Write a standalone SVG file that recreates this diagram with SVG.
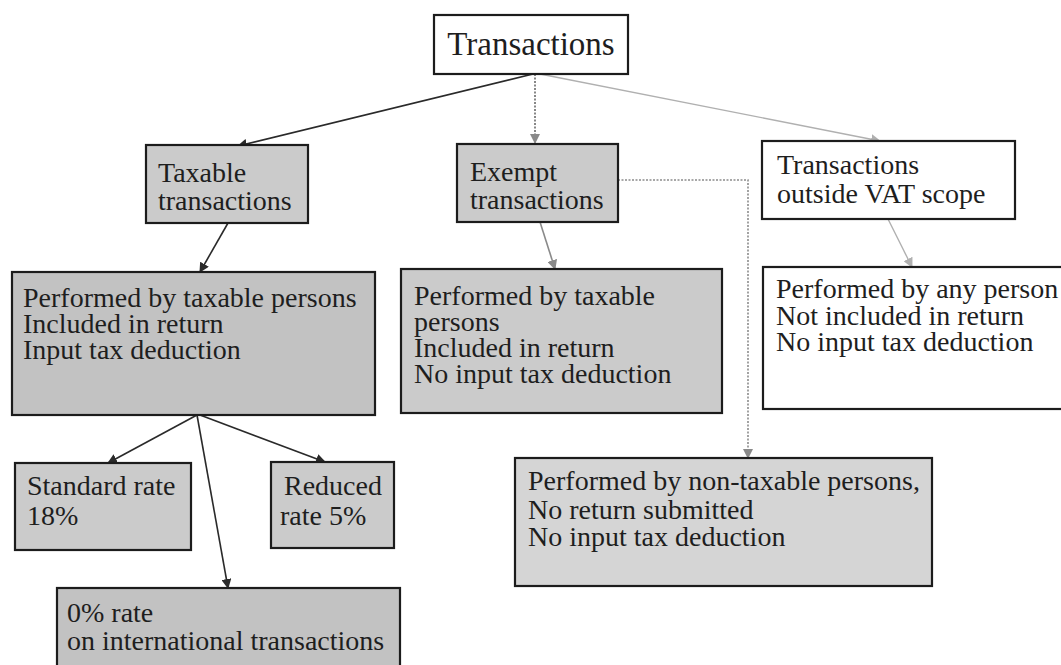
<svg xmlns="http://www.w3.org/2000/svg" width="1061" height="665" viewBox="0 0 1061 665">
  <style>
    .box { stroke: #1c1c1c; stroke-width: 2.2; }
    .white { fill: #ffffff; }
    .g1 { fill: #c2c2c2; }
    .g2 { fill: #cbcbcb; }
    .g3 { fill: #d5d5d5; }
    text { font-family: "Liberation Serif", "Times New Roman", serif; font-size: 28px; fill: #1e1e1e; }
    .title { font-size: 33px; }
    .dark { stroke: #2a2a2a; stroke-width: 1.6; fill: none; }
    .mid { stroke: #8a8a8a; stroke-width: 1.6; fill: none; }
    .light { stroke: #b0b0b0; stroke-width: 1.4; fill: none; }
    .dotted { stroke: #6a6a6a; stroke-width: 1.6; stroke-dasharray: 2 1.5; fill: none; }
    .dotlight { stroke: #8c8c8c; stroke-width: 1.6; stroke-dasharray: 2 1.5; fill: none; }
  </style>
  <defs>
    <marker id="ahDark" viewBox="0 0 10 10" refX="9" refY="5" markerWidth="10" markerHeight="10" markerUnits="userSpaceOnUse" orient="auto">
      <path d="M0,0 L10,5 L0,10 z" fill="#2a2a2a"/>
    </marker>
    <marker id="ahMid" viewBox="0 0 10 10" refX="9" refY="5" markerWidth="10" markerHeight="10" markerUnits="userSpaceOnUse" orient="auto">
      <path d="M0,0 L10,5 L0,10 z" fill="#8a8a8a"/>
    </marker>
    <marker id="ahLight" viewBox="0 0 10 10" refX="9" refY="5" markerWidth="10" markerHeight="10" markerUnits="userSpaceOnUse" orient="auto">
      <path d="M0,0 L10,5 L0,10 z" fill="#b0b0b0"/>
    </marker>
  </defs>

  <rect width="1061" height="665" fill="#ffffff"/>

  <!-- connectors -->
  <g id="connectors">
    <line class="dark" x1="533" y1="74" x2="238" y2="146" marker-end="url(#ahDark)"/>
    <line class="dotted" x1="535" y1="74" x2="535" y2="143" marker-end="url(#ahMid)"/>
    <line class="light" x1="540" y1="74" x2="880" y2="141" marker-end="url(#ahLight)"/>
    <line class="dark" x1="228" y1="223" x2="200" y2="272" marker-end="url(#ahDark)"/>
    <line class="mid" x1="540" y1="222" x2="555" y2="269" marker-end="url(#ahMid)"/>
    <line class="light" x1="888" y1="219" x2="912" y2="267" marker-end="url(#ahLight)"/>
    <polyline class="dotlight" points="618,180 748,180 748,458" marker-end="url(#ahMid)"/>
    <line class="dark" x1="197" y1="415" x2="108" y2="463" marker-end="url(#ahDark)"/>
    <line class="dark" x1="200" y1="415" x2="325" y2="462" marker-end="url(#ahDark)"/>
    <line class="dark" x1="197" y1="415" x2="228" y2="588" marker-end="url(#ahDark)"/>
  </g>

  <!-- root -->
  <g id="transactions">
    <rect class="box white" x="434" y="15" width="194" height="59"/>
    <text class="title" x="531" y="55" text-anchor="middle">Transactions</text>
  </g>

  <!-- second level -->
  <g id="taxable">
    <rect class="box g2" x="146" y="145" width="162" height="78"/>
    <text x="158" y="182">Taxable</text>
    <text x="158" y="210">transactions</text>
  </g>
  <g id="exempt">
    <rect class="box g2" x="457" y="144" width="161" height="78"/>
    <text x="470" y="181">Exempt</text>
    <text x="470" y="209">transactions</text>
  </g>
  <g id="outside">
    <rect class="box white" x="762" y="141" width="253" height="78"/>
    <text x="777" y="174">Transactions</text>
    <text x="777" y="203">outside VAT scope</text>
  </g>

  <!-- third level -->
  <g id="taxable-detail">
    <rect class="box g1" x="12" y="272" width="363" height="143"/>
    <text x="23" y="307">Performed by taxable persons</text>
    <text x="23" y="333">Included in return</text>
    <text x="23" y="359">Input tax deduction</text>
  </g>
  <g id="exempt-detail">
    <rect class="box g2" x="401" y="269" width="321" height="144"/>
    <text x="414" y="305">Performed by taxable</text>
    <text x="414" y="331">persons</text>
    <text x="414" y="357">Included in return</text>
    <text x="414" y="383">No input tax deduction</text>
  </g>
  <g id="outside-detail">
    <rect class="box white" x="763" y="267" width="300" height="142"/>
    <text x="776" y="298">Performed by any person</text>
    <text x="776" y="325">Not included in return</text>
    <text x="776" y="351">No input tax deduction</text>
  </g>
  <g id="non-taxable">
    <rect class="box g3" x="515" y="458" width="417" height="128"/>
    <text x="528" y="490">Performed by non-taxable persons,</text>
    <text x="528" y="519">No return submitted</text>
    <text x="528" y="546">No input tax deduction</text>
  </g>

  <!-- rate boxes -->
  <g id="standard-rate">
    <rect class="box g2" x="15" y="463" width="176" height="87"/>
    <text x="27" y="495">Standard rate</text>
    <text x="27" y="525">18%</text>
  </g>
  <g id="reduced-rate">
    <rect class="box g2" x="271" y="462" width="123" height="86"/>
    <text x="284" y="495">Reduced</text>
    <text x="280" y="525">rate 5%</text>
  </g>
  <g id="zero-rate">
    <rect class="box g1" x="57" y="588" width="343" height="80"/>
    <text x="67" y="622">0% rate</text>
    <text x="67" y="650">on international transactions</text>
  </g>
</svg>
